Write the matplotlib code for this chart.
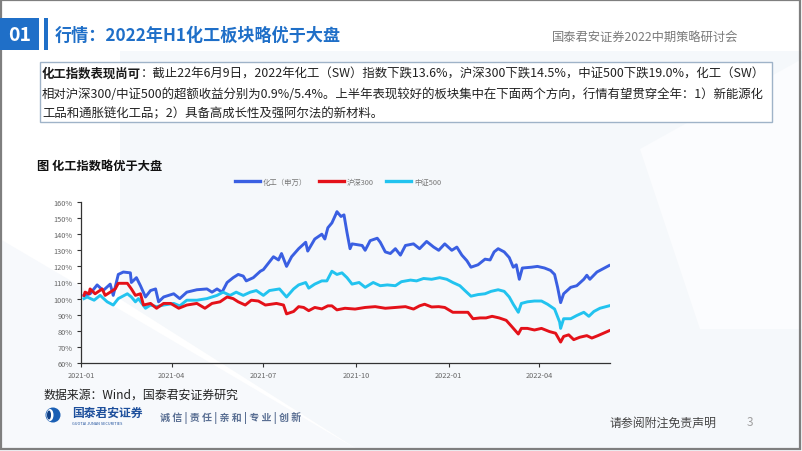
import matplotlib
matplotlib.use('Agg')
import matplotlib.pyplot as plt
import matplotlib.dates as mdates
import matplotlib.patches as mpatches
from matplotlib.ticker import FuncFormatter
import pandas as pd

plt.rcParams['font.family'] = ['Noto Sans CJK SC', 'DejaVu Sans']
plt.rcParams['axes.unicode_minus'] = False
# ------------------------------
W, H = 802, 452

SERIES_NAMES = ['化工（申万）', '沪深300', '中证500']
SERIES_COLORS = ['#3a5fe2', '#e41119', '#22c3ef']

# 化工（申万）
chem_dates = ['2021-01-04', '2021-01-10', '2021-01-17', '2021-01-23', '2021-01-30', '2021-02-02',
              '2021-02-07', '2021-02-12', '2021-02-19', '2021-02-20', '2021-02-25', '2021-03-01',
              '2021-03-06', '2021-03-11', '2021-03-16', '2021-03-19', '2021-03-24', '2021-04-03',
              '2021-04-09', '2021-04-16', '2021-04-26', '2021-05-06', '2021-05-11', '2021-05-16',
              '2021-05-21', '2021-05-26', '2021-06-01', '2021-06-06', '2021-06-11', '2021-06-14',
              '2021-06-21', '2021-06-28', '2021-07-01', '2021-07-06', '2021-07-11', '2021-07-16',
              '2021-07-19', '2021-07-24', '2021-07-29', '2021-08-05', '2021-08-12', '2021-08-14',
              '2021-08-21', '2021-08-28', '2021-08-31', '2021-09-03', '2021-09-07', '2021-09-11',
              '2021-09-12', '2021-09-16', '2021-09-19', '2021-09-22', '2021-09-25', '2021-09-27',
              '2021-10-07', '2021-10-10', '2021-10-15', '2021-10-22', '2021-10-25', '2021-10-30',
              '2021-11-04', '2021-11-09', '2021-11-14', '2021-11-19', '2021-11-27', '2021-12-03',
              '2021-12-10', '2021-12-17', '2021-12-22', '2021-12-28', '2022-01-04', '2022-01-09',
              '2022-01-14', '2022-01-19', '2022-01-23', '2022-01-30', '2022-02-06', '2022-02-11',
              '2022-02-15', '2022-02-19', '2022-02-25', '2022-03-02', '2022-03-06', '2022-03-09',
              '2022-03-12', '2022-03-15', '2022-03-24', '2022-03-30', '2022-04-06', '2022-04-12',
              '2022-04-16', '2022-04-19', '2022-04-22', '2022-04-25', '2022-05-02', '2022-05-08',
              '2022-05-15', '2022-05-18', '2022-05-21', '2022-05-28', '2022-06-09']
chem_values = [102, 103, 108.5, 105, 109, 102,
               115, 116.5, 116, 110, 113, 108,
               101, 105, 106, 98, 101, 103,
               100, 104, 105.5, 106, 104, 106,
               104, 110, 113, 115, 114, 111,
               113, 117, 118, 122, 126, 124,
               128, 120, 126, 131, 135, 129.5,
               137, 140, 137, 144, 147, 152.5,
               154, 151, 152, 141, 131, 134,
               133, 130, 136, 137.5, 135, 129,
               128, 131, 127, 133, 134, 131,
               135.5, 132, 130, 134, 130, 132,
               127, 123.5, 119.5, 121, 124.5, 124,
               129, 131, 129, 125.5, 119.5, 121,
               112, 119, 119.5, 120, 119, 117.5,
               115, 107, 97.5, 103, 107, 108,
               112, 114.5, 112, 116.5, 120.5]

# 沪深300
hs300_dates = ['2021-01-04', '2021-01-05', '2021-01-09', '2021-01-10', '2021-01-15', '2021-01-22',
               '2021-01-25', '2021-01-30', '2021-02-04', '2021-02-07', '2021-02-16', '2021-02-20',
               '2021-02-24', '2021-03-01', '2021-03-04', '2021-03-11', '2021-03-17', '2021-03-24',
               '2021-03-31', '2021-04-08', '2021-04-16', '2021-04-26', '2021-05-04', '2021-05-11',
               '2021-05-19', '2021-05-26', '2021-06-01', '2021-06-06', '2021-06-13', '2021-06-19',
               '2021-06-26', '2021-07-03', '2021-07-14', '2021-07-21', '2021-07-24', '2021-07-31',
               '2021-08-05', '2021-08-10', '2021-08-15', '2021-08-21', '2021-08-28', '2021-09-03',
               '2021-09-07', '2021-09-12', '2021-09-20', '2021-09-30', '2021-10-10', '2021-10-20',
               '2021-10-30', '2021-11-09', '2021-11-19', '2021-11-27', '2021-12-03', '2021-12-08',
               '2021-12-15', '2021-12-22', '2021-12-28', '2022-01-05', '2022-01-14', '2022-01-20',
               '2022-01-25', '2022-02-01', '2022-02-07', '2022-02-13', '2022-02-20', '2022-02-27',
               '2022-03-04', '2022-03-11', '2022-03-14', '2022-03-20', '2022-03-27', '2022-04-03',
               '2022-04-11', '2022-04-17', '2022-04-22', '2022-04-25', '2022-04-30', '2022-05-05',
               '2022-05-11', '2022-05-18', '2022-05-23', '2022-05-29', '2022-06-09']
hs300_values = [102, 104, 103, 106, 103, 106,
                102, 104, 106, 109.5, 109.5, 106,
                102, 103, 96, 97, 94, 97,
                97, 94, 96, 97, 94, 97,
                98, 101, 100, 98, 96, 99,
                98.5, 96, 97, 96, 90.5, 92,
                95, 94.5, 92.5, 94.5, 93.6, 95.5,
                95.5, 93, 94, 93.5, 94.5, 95,
                94, 94.5, 95, 93.5, 95.5, 96.5,
                94.8, 95, 94.5, 91.5, 91.5, 91.5,
                87.5, 88, 88, 89, 88, 86.5,
                83, 78, 81.5, 81.5, 80.5, 81.5,
                79.5, 78.5, 73, 76.5, 77.5, 74.5,
                76, 77, 75.5, 77, 80]

# 中证500
zz500_dates = ['2021-01-04', '2021-01-07', '2021-01-14', '2021-01-20', '2021-01-27', '2021-02-02',
               '2021-02-07', '2021-02-16', '2021-02-20', '2021-02-24', '2021-02-27', '2021-03-06',
               '2021-03-11', '2021-03-17', '2021-03-24', '2021-04-03', '2021-04-09', '2021-04-16',
               '2021-04-26', '2021-05-06', '2021-05-16', '2021-05-22', '2021-05-29', '2021-06-04',
               '2021-06-11', '2021-06-18', '2021-06-24', '2021-07-01', '2021-07-07', '2021-07-17',
               '2021-07-24', '2021-07-31', '2021-08-05', '2021-08-12', '2021-08-15', '2021-08-21',
               '2021-08-28', '2021-09-02', '2021-09-07', '2021-09-12', '2021-09-17', '2021-09-22',
               '2021-09-27', '2021-10-04', '2021-10-10', '2021-10-18', '2021-10-25', '2021-11-01',
               '2021-11-09', '2021-11-15', '2021-11-24', '2021-11-30', '2021-12-07', '2021-12-15',
               '2021-12-23', '2021-12-30', '2022-01-05', '2022-01-12', '2022-01-17', '2022-01-23',
               '2022-01-30', '2022-02-06', '2022-02-12', '2022-02-19', '2022-02-25', '2022-03-02',
               '2022-03-06', '2022-03-11', '2022-03-14', '2022-03-20', '2022-03-27', '2022-04-03',
               '2022-04-09', '2022-04-16', '2022-04-21', '2022-04-22', '2022-04-25', '2022-05-02',
               '2022-05-08', '2022-05-15', '2022-05-20', '2022-05-25', '2022-05-31', '2022-06-09']
zz500_values = [100, 101, 99, 102, 98, 96,
                100, 103, 101, 98, 100, 94,
                96, 95, 96, 97, 95.5, 99,
                99, 100, 102, 104, 102, 104,
                102, 104, 105, 102, 105, 106,
                101, 106, 108.5, 110, 106.5, 109,
                111, 111, 117, 115, 116, 113,
                109, 110, 107, 110, 108, 108.5,
                108, 110.5, 111.5, 111, 112.5, 112,
                113, 112, 110, 108, 105, 101.5,
                102.5, 103, 104.5, 105.5, 104.5, 101,
                96.5, 91.5, 97, 98, 98.5, 98.5,
                96.5, 93.5, 85.5, 81.5, 87.5, 87.5,
                89.5, 91.5, 89, 92, 94, 95.5]

Y_TICKS = [60, 70, 80, 90, 100, 110, 120, 130, 140, 150, 160]
X_TICK_LABELS = ['2021-01', '2021-04', '2021-07', '2021-10', '2022-01', '2022-04']

TITLE = '行情：2022年H1化工板块略优于大盘'
HEADER_RIGHT = '国泰君安证券2022中期策略研讨会'
BOX_BOLD = '化工指数表现尚可'
BOX_LINE1 = '：截止22年6月9日，2022年化工（SW）指数下跌13.6%，沪深300下跌14.5%，中证500下跌19.0%，化工（SW）'
BOX_LINE2 = '相对沪深300/中证500的超额收益分别为0.9%/5.4%。上半年表现较好的板块集中在下面两个方向，行情有望贯穿全年：1）新能源化'
BOX_LINE3 = '工品和通胀链化工品；2）具备高成长性及强阿尔法的新材料。'
CHART_TITLE = '图 化工指数略优于大盘'
SOURCE = '数据来源：Wind，国泰君安证券研究'
MOTTO = '诚 信 | 责 任 | 亲 和 | 专 业 | 创 新'
DISCLAIMER = '请参阅附注免责声明'
PAGE_NO = '3'
# ------------------------------


def fx(x):
    return x / W


def fy(y):
    return 1 - y / H


fig = plt.figure(figsize=(W / 100, H / 100), dpi=100)
fig.patch.set_facecolor('white')

# faint background shapes of the slide
bg = fig.add_axes([0, 0, 1, 1], zorder=-10)
bg.set_xlim(0, W)
bg.set_ylim(H, 0)
bg.axis('off')
bg.add_patch(mpatches.Polygon([[120, 52], [802, 52], [802, 452], [360, 452], [120, 300]],
                              closed=True, color='#f5f8fb', lw=0))
bg.add_patch(mpatches.Polygon([[0, 240], [360, 452], [0, 452]], closed=True, color='#f7f9fc', lw=0))
bg.add_patch(mpatches.Polygon([[640, 150], [802, 60], [802, 330], [700, 330]],
                              closed=True, color='#fbfcfe', lw=0))
bg.add_patch(mpatches.Rectangle((1, 1), W - 3, H - 3, fill=False, ec='#7f7f7f', lw=1.6))

# header
bg.add_patch(mpatches.Rectangle((0, 19), 39, 32, color='#1f6fc8', lw=0))
bg.add_patch(mpatches.Rectangle((44, 19), 3.5, 32, color='#1f6fc8', lw=0))
bg.text(20, 35.5, '01', color='white', fontsize=14, fontweight='bold', ha='center', va='center')
bg.text(55, 36, TITLE, color='#1f6fc8', fontsize=12.3, fontweight='bold', va='center')
bg.text(738, 37, HEADER_RIGHT, color='#7a7a7a', fontsize=8.8, ha='right', va='center')

# text box
bg.add_patch(mpatches.Rectangle((40, 63), 732, 60, fill=True, fc='white', ec='#9fb3c8', lw=1))
fig.canvas.draw()
renderer = fig.canvas.get_renderer()
tb = bg.text(42, 74, BOX_BOLD, fontsize=8.95, fontweight='bold', color='#1a1a1a', va='center')
bb = tb.get_window_extent(renderer=renderer)
x_rest = bg.transData.inverted().transform((bb.x1, 0))[0]
bg.text(x_rest, 74, BOX_LINE1, fontsize=8.95, color='#222222', va='center')
bg.text(42, 95, BOX_LINE2, fontsize=8.95, color='#222222', va='center')
bg.text(42, 114, BOX_LINE3, fontsize=8.95, color='#222222', va='center')

# chart title
bg.text(37, 166, CHART_TITLE, fontsize=8.8, fontweight='bold', color='#111111', va='center')

# footer
bg.text(44, 395, SOURCE, fontsize=8.6, color='#222222', va='center')
bg.add_patch(mpatches.Circle((53, 416), 7.5, color='#1a5fb4', lw=0))
bg.add_patch(mpatches.Ellipse((50, 416), 7, 12, color='white', lw=0))
bg.add_patch(mpatches.Ellipse((49, 416), 4, 9, color='#0f3f86', lw=0))
bg.text(72, 413, '国泰君安证券', fontsize=8.5, fontweight='bold', color='#1d4f9c', va='center')
bg.text(72, 424, 'GUOTAI JUNAN SECURITIES', fontsize=2.8, color='#1d4f9c', va='center')
bg.text(160, 418, MOTTO, fontsize=7.2, fontweight='bold', color='#5a6f93', va='center')
bg.text(610, 423, DISCLAIMER, fontsize=8.6, color='#444444', va='center')
bg.text(747, 423, PAGE_NO, fontsize=8.6, color='#a0a0a0', va='center')

# chart
ax = fig.add_axes([fx(81), fy(364), fx(610) - fx(81), fy(203) - fy(364)])
ax.patch.set_alpha(0)
all_series = [(chem_dates, chem_values), (hs300_dates, hs300_values), (zz500_dates, zz500_values)]
lines = []
for (d, v), name, c in zip(all_series, SERIES_NAMES, SERIES_COLORS):
    ln, = ax.plot(pd.to_datetime(d), v, color=c, lw=2.1, label=name, solid_joinstyle='round')
    lines.append(ln)
# draw order like the reference: blue, cyan, red on top
lines[0].set_zorder(3)
lines[2].set_zorder(3.5)
lines[1].set_zorder(4)

ax.set_ylim(60, 160)
ax.set_yticks(Y_TICKS)
ax.yaxis.set_major_formatter(FuncFormatter(lambda v, _: f'{v:.0f}%'))
ax.set_xlim(pd.Timestamp('2021-01-01'), pd.Timestamp('2022-06-10'))
ax.set_xticks(pd.to_datetime([s + '-01' for s in X_TICK_LABELS]))
ax.xaxis.set_major_formatter(mdates.DateFormatter('%Y-%m'))
for side in ['top', 'right']:
    ax.spines[side].set_visible(False)
for side in ['left', 'bottom']:
    ax.spines[side].set_color('#333333')
    ax.spines[side].set_linewidth(0.9)
ax.tick_params(axis='y', length=3, width=0.8, color='#333333', labelsize=5.3, labelcolor='#666666', pad=3)
ax.tick_params(axis='x', length=3, width=0.8, color='#333333', labelsize=5.3, labelcolor='#666666', pad=3)

leg = ax.legend(handles=lines, loc='center', bbox_to_anchor=(fx(338), fy(183)),
                bbox_transform=fig.transFigure, ncol=3, frameon=False, fontsize=5.3,
                handlelength=3.4, handletextpad=0.4, columnspacing=1.6)
for t in leg.get_texts():
    t.set_color('#777777')
for h in leg.get_lines():
    h.set_linewidth(2.4)

plt.savefig('out.png', dpi=100)
